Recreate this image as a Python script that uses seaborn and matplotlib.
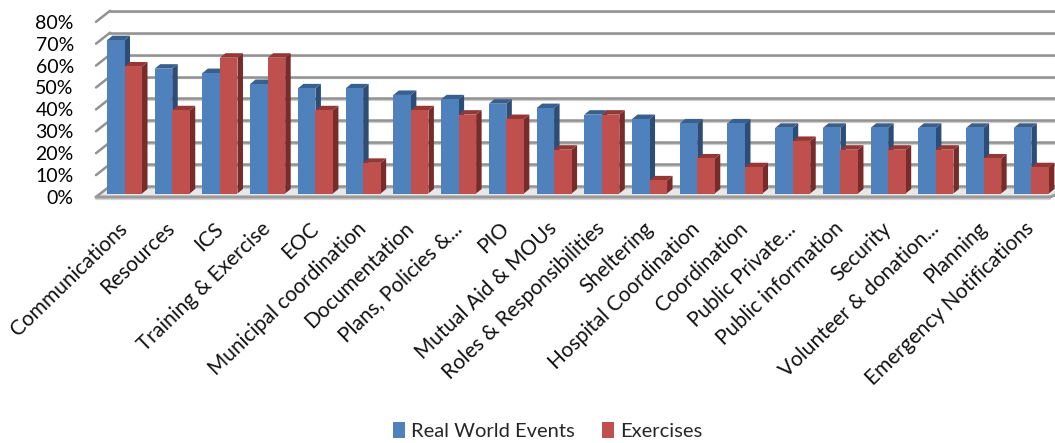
import matplotlib
matplotlib.use("Agg")
import matplotlib.pyplot as plt
from matplotlib.patches import Polygon
from matplotlib.transforms import ScaledTranslation
import pandas as pd
import seaborn as sns

categories = [
    "Communications", "Resources", "ICS", "Training & Exercise", "EOC",
    "Municipal coordination", "Documentation", "Plans, Policies &...", "PIO",
    "Mutual Aid & MOUs", "Roles & Responsibilities", "Sheltering",
    "Hospital Coordination", "Coordination", "Public Private...",
    "Public information", "Security", "Volunteer & donation...", "Planning",
    "Emergency Notifications",
]
real_world = [70, 57, 55, 50, 48, 48, 45, 43, 41, 39, 36, 34, 32, 32, 30, 30, 30, 30, 30, 30]
exercises = [58, 38, 62, 62, 38, 14, 38, 36, 34, 20, 36, 6, 16, 12, 24, 20, 20, 20, 16, 12]
series_names = ["Real World Events", "Exercises"]
y_ticks = [0, 10, 20, 30, 40, 50, 60, 70, 80]

front_colors = ["#4F81BD", "#C0504D"]
side_colors = ["#2C4D75", "#772C2A"]
top_colors = ["#38608F", "#953735"]

W, H = 1055, 443
DPI = 100
BASE_Y = 193.5      # pixel row of the bar bases
UNIT_Y = 2.19       # pixels per percentage point
GROUP_X = 47.73     # pixels per category
FIRST_X = 124.5     # pixel column of the first category centre
LEFT_X = 96

df = pd.DataFrame({
    "category": categories * 2,
    "series": [series_names[0]] * len(categories) + [series_names[1]] * len(categories),
    "value": real_world + exercises,
})

sns.set_theme(style="white")
plt.rcParams["font.family"] = ["Lato", "DejaVu Sans"]

fig = plt.figure(figsize=(W / DPI, H / DPI), dpi=DPI)
top_y = BASE_Y - 80 * UNIT_Y
ax = fig.add_axes([LEFT_X / W, 1 - BASE_Y / H, (W - LEFT_X) / W, (BASE_Y - top_y) / H])
ax.patch.set_alpha(0)

sns.barplot(
    data=df, x="category", y="value", hue="series", hue_order=series_names,
    palette=front_colors, width=0.734, gap=0, saturation=1, errorbar=None,
    edgecolor="none", linewidth=0, ax=ax, zorder=5,
)
ax.set_xlim((LEFT_X - FIRST_X) / GROUP_X, (W - FIRST_X) / GROUP_X)
ax.set_ylim(0, 80)


def px_dx(px):
    return px / GROUP_X


def px_dy(px):
    return px / UNIT_Y


# Box walls: back gridlines, left wall diagonals and the floor slab
wall_dx, back_dy, front_dy = 14, 7.5, -3.5
x_left = ax.get_xlim()[0]
x_back = x_left + px_dx(wall_dx)
x_right = ax.get_xlim()[1]

ax.add_patch(Polygon(
    [(x_left, px_dy(front_dy)), (x_back, px_dy(back_dy)), (x_right, px_dy(back_dy)),
     (x_right, px_dy(back_dy - 9)), (x_right - px_dx(5), px_dy(front_dy))],
    closed=True, facecolor="#E8E8E8", edgecolor="none", zorder=1, clip_on=False,
))
ax.plot([x_left, x_right - px_dx(5), x_right], [px_dy(front_dy)] * 2 + [px_dy(back_dy - 9)],
        color="#9A9A9A", lw=2.2, zorder=1.5, clip_on=False)
ax.plot([x_left, x_right - px_dx(5)], [px_dy(front_dy - 2)] * 2,
        color="#D6D6D6", lw=1.6, zorder=1.4, clip_on=False)

for v in y_ticks:
    back = v + px_dy(back_dy)
    front = v + px_dy(front_dy)
    ax.plot([x_back, x_right], [back - px_dy(1.6)] * 2, color="#CDCDCD", lw=1.6, zorder=1, clip_on=False)
    ax.plot([x_back, x_right], [back, back], color="#929292", lw=1.8, zorder=1.2, clip_on=False)
    ax.plot([x_left, x_back], [front, back], color="#929292", lw=1.8, zorder=1.2, clip_on=False)

# Extrude each bar with a side face and a top face
depth_x, depth_y = px_dx(5.5), px_dy(4.5)
bars = [p for c in ax.containers for p in c]
for n, bar in enumerate(bars):
    s = n // len(categories)
    x0, w, h = bar.get_x(), bar.get_width(), bar.get_height()
    x1 = x0 + w
    z = 3 + s * 3
    bar.set_zorder(z + 1)
    ax.add_patch(Polygon(
        [(x1, 0), (x1 + depth_x, depth_y), (x1 + depth_x, h + depth_y), (x1, h)],
        closed=True, facecolor=side_colors[s], edgecolor="none", zorder=z,
    ))
    ax.add_patch(Polygon(
        [(x0, h), (x0 + depth_x, h + depth_y), (x1 + depth_x, h + depth_y), (x1, h)],
        closed=True, facecolor=top_colors[s], edgecolor="none", zorder=z,
    ))

sns.despine(ax=ax, left=True, bottom=True)
ax.set_xlabel("")
ax.set_ylabel("")
ax.set_yticks(y_ticks)
ax.set_yticklabels([f"{v}%" for v in y_ticks], fontsize=14, color="#000000")
ax.tick_params(axis="y", length=0, pad=16)
ax.tick_params(axis="x", length=0, pad=18)
ax.set_xticks(range(len(categories)))
ax.set_xticklabels(categories, rotation=44, ha="right", rotation_mode="anchor",
                   fontsize=15, color="#111111")
shift_y = ScaledTranslation(0, -3.5 / DPI, fig.dpi_scale_trans)
for label in ax.get_yticklabels():
    label.set_transform(label.get_transform() + shift_y)
shift_x = ScaledTranslation(-7 / DPI, 0, fig.dpi_scale_trans)
for label in ax.get_xticklabels():
    label.set_transform(label.get_transform() + shift_x)

sns.move_legend(
    ax, "center", bbox_to_anchor=(547.5 / W, 1 - 431 / H), bbox_transform=fig.transFigure,
    ncols=2, title=None, frameon=False, fontsize=14.5, handlelength=0.6,
    handleheight=0.85, handletextpad=0.3, columnspacing=1.35,
)

fig.savefig("out.png", dpi=DPI)
